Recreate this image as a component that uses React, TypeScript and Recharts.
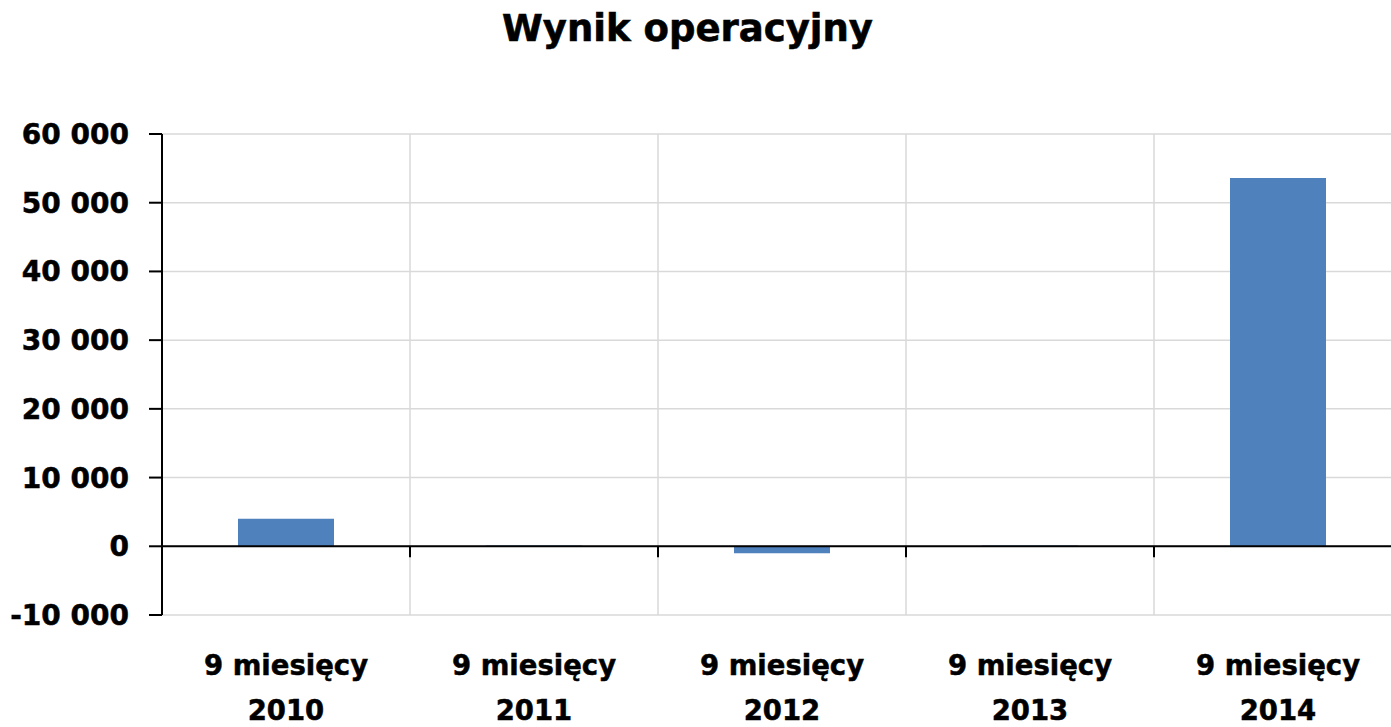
import React from "react";
import { BarChart, Bar, XAxis, YAxis, CartesianGrid, ReferenceLine } from "recharts";

const categories = ["9 miesięcy 2010", "9 miesięcy 2011", "9 miesięcy 2012", "9 miesięcy 2013", "9 miesięcy 2014"];
const values = [4000, 100, -1000, 100, 53600];
const yTicks = [-10000, 0, 10000, 20000, 30000, 40000, 50000, 60000];
const title = "Wynik operacyjny";

const data = categories.map((c, i) => ({ name: c, value: values[i] }));

const FONT = "'DejaVu Sans', Verdana, sans-serif";

const fmt = (v: number) => {
  const s = Math.abs(v).toString().replace(/\B(?=(\d{3})+(?!\d))/g, " ");
  return (v < 0 ? "-" : "") + s;
};

const XTick = (props: any) => {
  const { x, y, payload } = props;
  const str: string = payload.value;
  const idx = str.lastIndexOf(" ");
  const l1 = str.slice(0, idx);
  const l2 = str.slice(idx + 1);
  const common = { textAnchor: "middle" as const, fontFamily: FONT, fontWeight: "bold", fontSize: 27.5, fill: "#000", stroke: "#000", strokeWidth: 0.5 };
  return (
    <g>
      <text x={x} y={y + 60} {...common}>{l1}</text>
      <text x={x} y={y + 105} {...common}>{l2}</text>
    </g>
  );
};

const ZeroLine = (props: any) => {
  const { x1, y1, x2, y2 } = props;
  const n = categories.length;
  const step = (x2 - x1) / n;
  const ticks = [];
  for (let i = 1; i <= n; i++) {
    const xx = x1 + step * i;
    ticks.push(<line key={i} x1={xx} x2={xx} y1={y1} y2={y1 + 11} stroke="#000" strokeWidth={2} />);
  }
  return (
    <g>
      <line x1={x1} y1={y1} x2={x2} y2={y2} stroke="#000" strokeWidth={2} />
      {ticks}
    </g>
  );
};

export default function App() {
  return (
    <div style={{ position: "absolute", left: 0, top: 0, width: 1391, height: 727, overflow: "hidden", background: "#fff" }}>
      <div style={{ position: "absolute", left: 0, top: 0, width: 1391, textAlign: "center", fontFamily: FONT, fontWeight: "bold", fontSize: 37, lineHeight: "50px", paddingTop: 4, color: "#000", marginLeft: -8, WebkitTextStroke: "0.6px #000" }}>
        {title}
      </div>
      <div style={{ position: "absolute", left: 0, top: 0 }}>
        <BarChart width={1412} height={727} data={data} margin={{ top: 134, right: 10, bottom: 0, left: 0 }} barSize={96}>
          <CartesianGrid
            stroke="#d9d9d9"
            strokeWidth={1.5}
            verticalCoordinatesGenerator={({ offset }: any) =>
              categories.map((_, i) => offset.left + ((i + 1) * offset.width) / categories.length)
            }
          />
          <XAxis dataKey="name" axisLine={false} tickLine={false} tickSize={0} tickMargin={0} height={112} tick={<XTick />} interval={0} />
          <YAxis
            width={162}
            domain={[-10000, 60000]}
            ticks={yTicks}
            tickFormatter={fmt}
            tickSize={13}
            tickMargin={20}
            axisLine={{ stroke: "#000", strokeWidth: 2 }}
            tickLine={{ stroke: "#000", strokeWidth: 2 }}
            tick={{ fill: "#000", stroke: "#000", strokeWidth: 0.5, fontFamily: FONT, fontWeight: "bold", fontSize: 28 }}
            interval={0}
          />
          <Bar dataKey="value" fill="#4f81bd" isAnimationActive={false} />
          <ReferenceLine y={0} shape={<ZeroLine />} />
        </BarChart>
      </div>
    </div>
  );
}
